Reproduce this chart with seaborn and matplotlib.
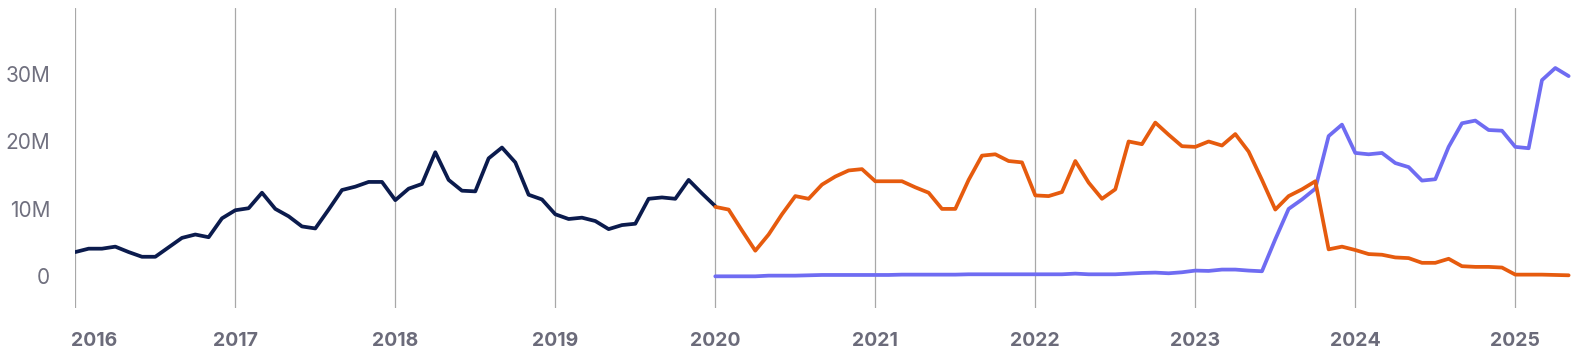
#!/usr/bin/env python3

import pandas as pd
import seaborn as sns
from matplotlib import pyplot as plt
from matplotlib.ticker import FuncFormatter
from matplotlib.transforms import ScaledTranslation

# monthly values, millions
navy_vals = [3.6, 4.1, 4.1, 4.4, 3.6, 2.9, 2.9, 4.3, 5.7, 6.2, 5.8, 8.6,
             9.8, 10.1, 12.4, 10.0, 8.9, 7.4, 7.1, 9.9, 12.8, 13.3, 14.0, 14.0,
             11.3, 13.0, 13.7, 18.4, 14.3, 12.7, 12.6, 17.5, 19.1, 16.9, 12.1, 11.4,
             9.2, 8.5, 8.7, 8.2, 7.0, 7.6, 7.8, 11.5, 11.7, 11.5, 14.3, 12.3,
             10.4]
orange_vals = [10.3, 9.9, 6.8, 3.8, 6.2, 9.2, 11.9, 11.5, 13.6, 14.8, 15.7, 15.9,
               14.1, 14.1, 14.1, 13.2, 12.4, 10.0, 10.0, 14.3, 17.9, 18.1, 17.1, 16.9,
               12.0, 11.9, 12.5, 17.1, 13.9, 11.5, 12.9, 20.0, 19.6, 22.8, 21.0, 19.3,
               19.2, 20.0, 19.4, 21.1, 18.5, 14.3, 9.9, 11.9, 12.9, 14.1, 4.0, 4.4,
               3.9, 3.3, 3.2, 2.8, 2.7, 2.0, 2.0, 2.6, 1.5, 1.4, 1.4, 1.3,
               0.25, 0.25, 0.25, 0.2, 0.15]
blue_vals = [0.0, 0.0, 0.0, 0.0, 0.1, 0.1, 0.1, 0.15, 0.2, 0.2, 0.2, 0.2,
             0.2, 0.2, 0.25, 0.25, 0.25, 0.25, 0.25, 0.3, 0.3, 0.3, 0.3, 0.3,
             0.3, 0.3, 0.3, 0.4, 0.3, 0.3, 0.3, 0.4, 0.5, 0.55, 0.45, 0.6,
             0.85, 0.8, 1.0, 1.0, 0.85, 0.75, 5.5, 10.0, 11.4, 13.0, 20.8, 22.5,
             18.3, 18.1, 18.3, 16.8, 16.2, 14.2, 14.4, 19.2, 22.7, 23.1, 21.7, 21.6,
             19.2, 19.0, 29.1, 30.9, 29.7]
years = list(range(2016, 2026))
y_ticks = [0, 10e6, 20e6, 30e6]

colors = {'navy': '#0b1b4d', 'blue': '#6f6cf2', 'orange': '#e65b0e'}


def series(name, start, vals):
    return pd.DataFrame({'t': [start + i / 12 for i in range(len(vals))],
                         'v': [v * 1e6 for v in vals],
                         'series': name})


df = pd.concat([series('navy', 2016, navy_vals),
                series('blue', 2020, blue_vals),
                series('orange', 2020, orange_vals)], ignore_index=True)

sns.set_style('white')
plt.rcParams['font.family'] = ['Inter', 'DejaVu Sans']

fig = plt.figure(figsize=(15.76, 3.6), dpi=100)
ax = fig.add_axes([75.3 / 1576, 1 - 308 / 360, 1 - 75.3 / 1576, 300 / 360])

sns.lineplot(data=df, x='t', y='v', hue='series', palette=colors,
             hue_order=['navy', 'blue', 'orange'], lw=2.7, legend=False,
             ax=ax)

ax.set_xlim(2016, 2016 + (1576 - 75.3) / 160)
ax.set_ylim(-4.7e6, 39.8e6)
ax.set_xticks(years)
ax.set_yticks(y_ticks)
ax.yaxis.set_major_formatter(
    FuncFormatter(lambda v, _: '0' if v == 0 else f'{v / 1e6:.0f}M'))
ax.grid(axis='x', color='#a8a8a8', lw=0.9)
ax.grid(axis='y', visible=False)
ax.set_axisbelow(True)
for s in ax.spines.values():
    s.set_visible(False)
ax.tick_params(axis='both', length=0)
ax.tick_params(axis='y', pad=18, labelsize=15, labelcolor='#70707f')
ax.tick_params(axis='x', pad=17.5, labelsize=14, labelcolor='#6b6b7a')
for lbl in ax.get_xticklabels():
    lbl.set_fontweight('bold')

# first year label sits left-aligned just inside the chart edge
first = ax.get_xticklabels()[0]
first.set_horizontalalignment('left')
first.set_transform(first.get_transform() +
                    ScaledTranslation(-4.6 / 100, 0, fig.dpi_scale_trans))

ax.set_xlabel('')
ax.set_ylabel('')

fig.savefig('out.png', dpi=100)
